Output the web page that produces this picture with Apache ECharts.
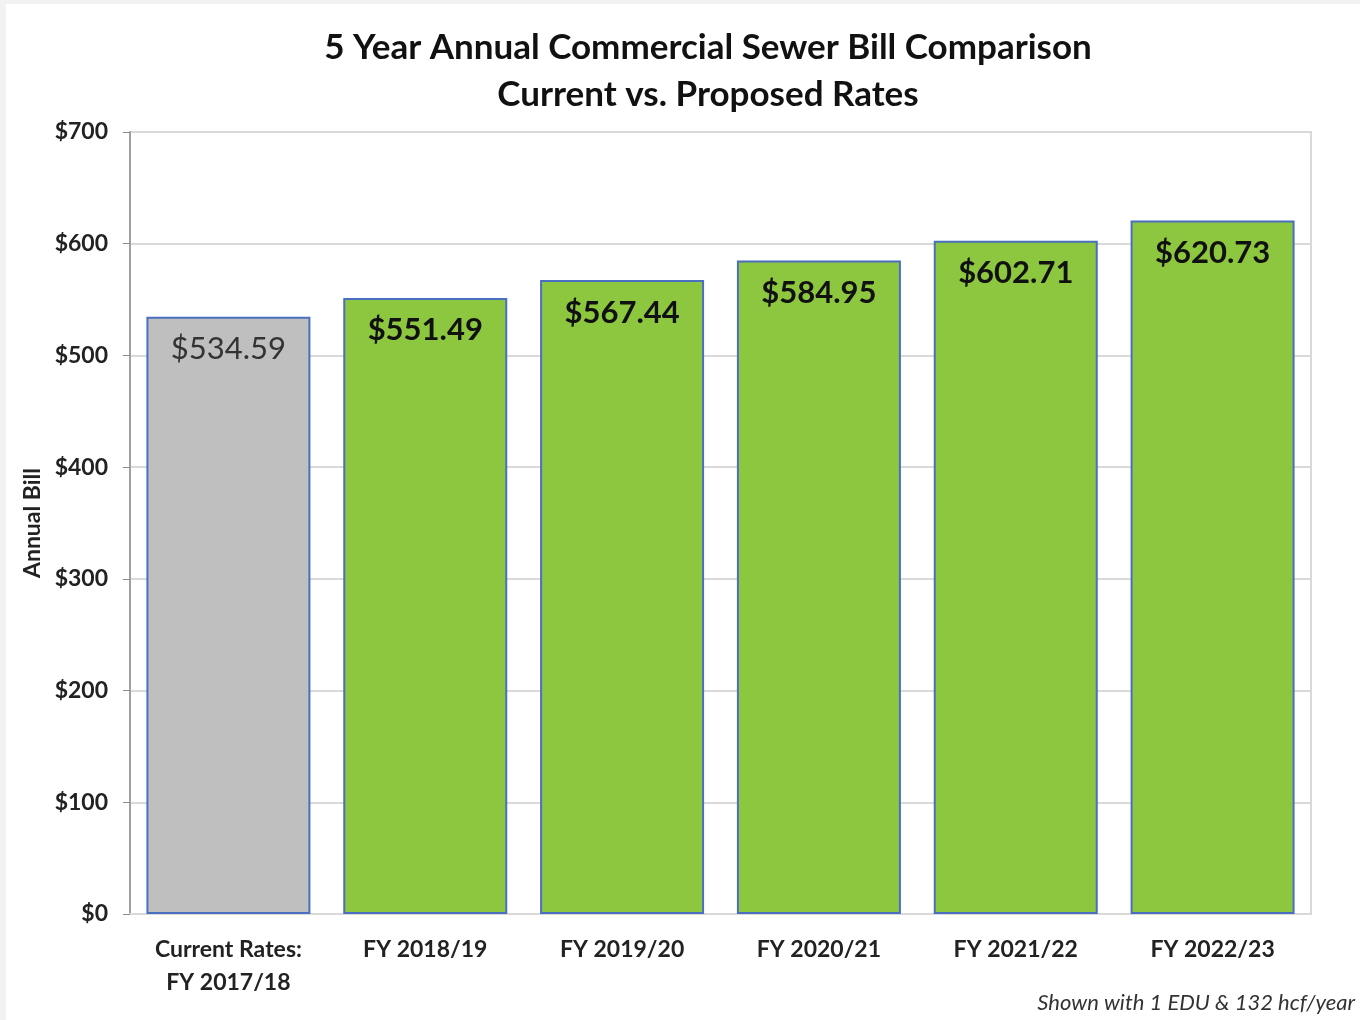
<!DOCTYPE html>
<html>
<head>
<meta charset="utf-8">
<script src="https://cdn.jsdelivr.net/npm/echarts@6/dist/echarts.min.js"></script>
<style>
html,body{margin:0;padding:0;background:#f2f2f2;}
#c{position:absolute;left:0;top:0;width:1360px;height:1020px;}
</style>
</head>
<body>
<div id="c"></div>
<script>
var categories = ['Current Rates:\nFY 2017/18', 'FY 2018/19', 'FY 2019/20', 'FY 2020/21', 'FY 2021/22', 'FY 2022/23'];
var billValues = [534.59, 551.49, 567.44, 584.95, 602.71, 620.73];
var yTicks = [0, 100, 200, 300, 400, 500, 600, 700];
var titleLines = ['5 Year Annual Commercial Sewer Bill Comparison', 'Current vs. Proposed Rates'];
var footnote = 'Shown with 1 EDU & 132 hcf/year';

var FONT = 'Lato';
var chart = echarts.init(document.getElementById('c'), null, {renderer: 'canvas'});

var barData = billValues.map(function (v, i) {
  var current = i === 0;
  return {
    value: v,
    itemStyle: {color: current ? '#bfbfbf' : '#8dc63f'},
    label: {
      fontWeight: current ? 'normal' : 'bold',
      color: current ? '#333333' : '#111111'
    }
  };
});

chart.setOption({
  backgroundColor: 'transparent',
  animation: false,
  graphic: [
    {type: 'rect', shape: {x: 6, y: 4, width: 1354, height: 1016}, style: {fill: '#ffffff'}, z: -10},
    {type: 'text', x: 708, y: 48, style: {text: titleLines[0], font: 'bold 35px ' + FONT, fill: '#111', align: 'center', verticalAlign: 'middle'}},
    {type: 'text', x: 708, y: 95, style: {text: titleLines[1], font: 'bold 35px ' + FONT, fill: '#111', align: 'center', verticalAlign: 'middle'}},
    {type: 'text', x: 1355, y: 1003, style: {text: footnote, font: 'italic 22px ' + FONT, fill: '#333', align: 'right', verticalAlign: 'middle'}}
  ],
  grid: {left: 130, right: 49, top: 132, bottom: 106, show: true, borderColor: '#d9d9d9', borderWidth: 2, backgroundColor: 'transparent'},
  xAxis: {
    type: 'category',
    data: categories,
    axisLine: {show: true, lineStyle: {color: '#d9d9d9', width: 2}},
    axisTick: {show: false},
    axisLabel: {fontFamily: FONT, fontWeight: 'bold', fontSize: 23, color: '#222', lineHeight: 33, margin: 19}
  },
  yAxis: {
    type: 'value',
    min: 0, max: 700, interval: 100,
    name: 'Annual Bill',
    nameLocation: 'middle',
    nameGap: 86,
    nameTextStyle: {fontFamily: FONT, fontWeight: 'bold', fontSize: 23, color: '#222'},
    axisLine: {show: true, lineStyle: {color: '#8c8c8c', width: 1.5}},
    axisTick: {show: true, length: 7, lineStyle: {color: '#8c8c8c'}},
    splitLine: {show: true, lineStyle: {color: '#d9d9d9', width: 2}},
    axisLabel: {
      fontFamily: FONT, fontWeight: 'bold', fontSize: 23, color: '#222', margin: 22,
      formatter: function (v) { return yTicks.indexOf(v) >= 0 ? '$' + v : ''; }
    }
  },
  series: [{
    type: 'bar',
    data: barData,
    barWidth: 164,
    itemStyle: {borderColor: '#4a6fc0', borderWidth: 2},
    label: {
      show: true,
      position: 'insideTop',
      distance: 17,
      fontFamily: FONT,
      fontSize: 31,
      formatter: function (p) { return '$' + p.value.toFixed(2); }
    }
  }]
});
</script>
</body>
</html>
